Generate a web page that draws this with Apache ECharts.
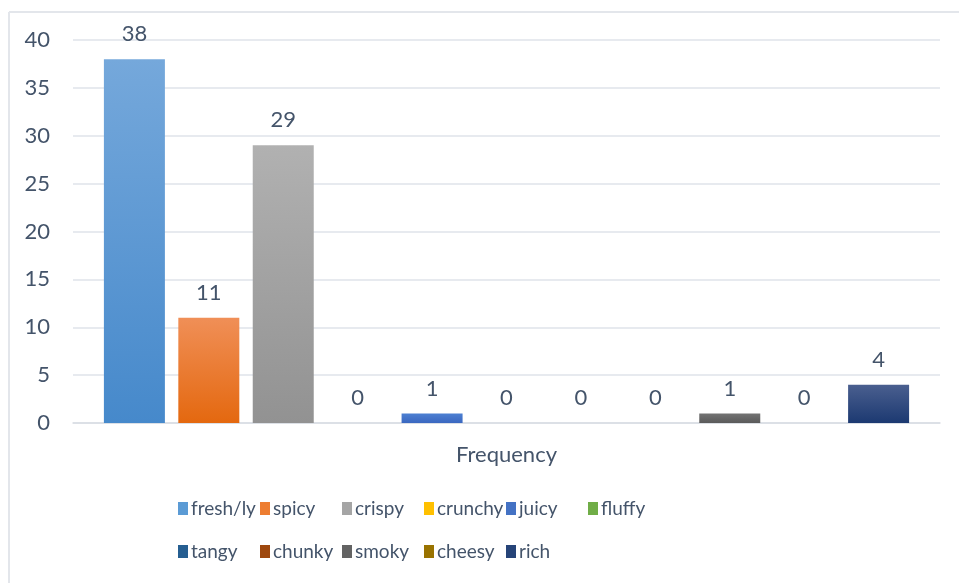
<!DOCTYPE html>
<html>
<head>
<meta charset="utf-8">
<script src="https://cdn.jsdelivr.net/npm/echarts@6/dist/echarts.min.js"></script>
<style>
  html, body { margin: 0; padding: 0; background: #fff; }
  #main { width: 959px; height: 583px; }
</style>
</head>
<body>
<div id="main"></div>
<script>
// data
var categories = ["Frequency"];
var seriesNames = ["fresh/ly", "spicy", "crispy", "crunchy", "juicy", "fluffy",
                   "tangy", "chunky", "smoky", "cheesy", "rich"];
var seriesValues = [38, 11, 29, 0, 1, 0, 0, 0, 1, 0, 4];
var yTicks = [0, 5, 10, 15, 20, 25, 30, 35, 40];

// gradient colours, top -> bottom (office-ish palette)
var topColors = ["#75a8db", "#f08f57", "#b1b1b1", "#ffca28", "#4d80d2", "#7ab652",
                 "#30699e", "#b0582a", "#737373", "#a8842c", "#4a5f8f"];
var bottomColors = ["#4689cb", "#e4680f", "#929292", "#f0b400", "#3a67c0", "#5f9a3a",
                    "#1e5286", "#8c3d0a", "#5a5a5a", "#8a6800", "#1c3971"];
var legendColors = ["#5b9bd5", "#ed7d31", "#a5a5a5", "#ffc000", "#4472c4", "#70ad47",
                    "#255e91", "#9e480e", "#636363", "#997300", "#264478"];

var textColor = "#44546a";
var fontFamily = "Lato, 'Open Sans', sans-serif";

var chart = echarts.init(document.getElementById("main"), null, { renderer: "canvas" });

var series = [];
for (var i = 0; i < seriesNames.length; i++) {
  series.push({
    name: seriesNames[i],
    type: "bar",
    data: [seriesValues[i]],
    barWidth: 61,
    barGap: "22%",
    itemStyle: {
      color: new echarts.graphic.LinearGradient(0, 0, 0, 1, [
        { offset: 0, color: topColors[i] },
        { offset: 1, color: bottomColors[i] }
      ])
    },
    label: {
      show: true,
      position: "top",
      distance: 14,
      color: textColor,
      fontFamily: fontFamily,
      fontSize: 22
    }
  });
}

// legend laid out as a 6-column grid, one legend block per item
var legends = [];
for (var j = 0; j < seriesNames.length; j++) {
  var col = j % 6, row = Math.floor(j / 6);
  legends.push({
    data: [{ name: seriesNames[j], itemStyle: { color: legendColors[j] } }],
    left: 178 + col * 82,
    top: 499 + row * 43,
    icon: "rect",
    itemWidth: 10,
    itemHeight: 13,
    padding: 0,
    selectedMode: false,
    textStyle: {
      color: textColor,
      fontFamily: fontFamily,
      fontSize: 19,
      padding: [0, 0, 0, -2]
    }
  });
}

var option = {
  backgroundColor: "#fff",
  animation: false,
  grid: { left: 73, right: 19, top: 40, bottom: 160, containLabel: false },
  legend: legends,
  xAxis: {
    type: "category",
    data: categories,
    axisLine: { show: true, lineStyle: { color: "#d9dde4", width: 1.5 } },
    axisTick: { show: false },
    axisLabel: {
      color: textColor,
      fontFamily: fontFamily,
      fontSize: 22,
      margin: 21
    }
  },
  yAxis: {
    type: "value",
    min: 0,
    max: 40,
    interval: 5,
    axisLine: { show: false },
    axisTick: { show: false },
    splitLine: { show: true, lineStyle: { color: "#dfe3ea", width: 1.5 } },
    axisLabel: {
      color: textColor,
      fontFamily: fontFamily,
      fontSize: 22,
      margin: 23,
      formatter: function (v) { return yTicks.indexOf(v) >= 0 ? String(v) : ""; }
    }
  },
  graphic: [
    { type: "line", shape: { x1: 9, y1: 12, x2: 959, y2: 12 }, style: { stroke: "#e3e6eb", lineWidth: 2 } },
    { type: "line", shape: { x1: 9, y1: 12, x2: 9, y2: 583 }, style: { stroke: "#e3e6eb", lineWidth: 2 } }
  ],
  series: series
};

chart.setOption(option);
</script>
</body>
</html>
